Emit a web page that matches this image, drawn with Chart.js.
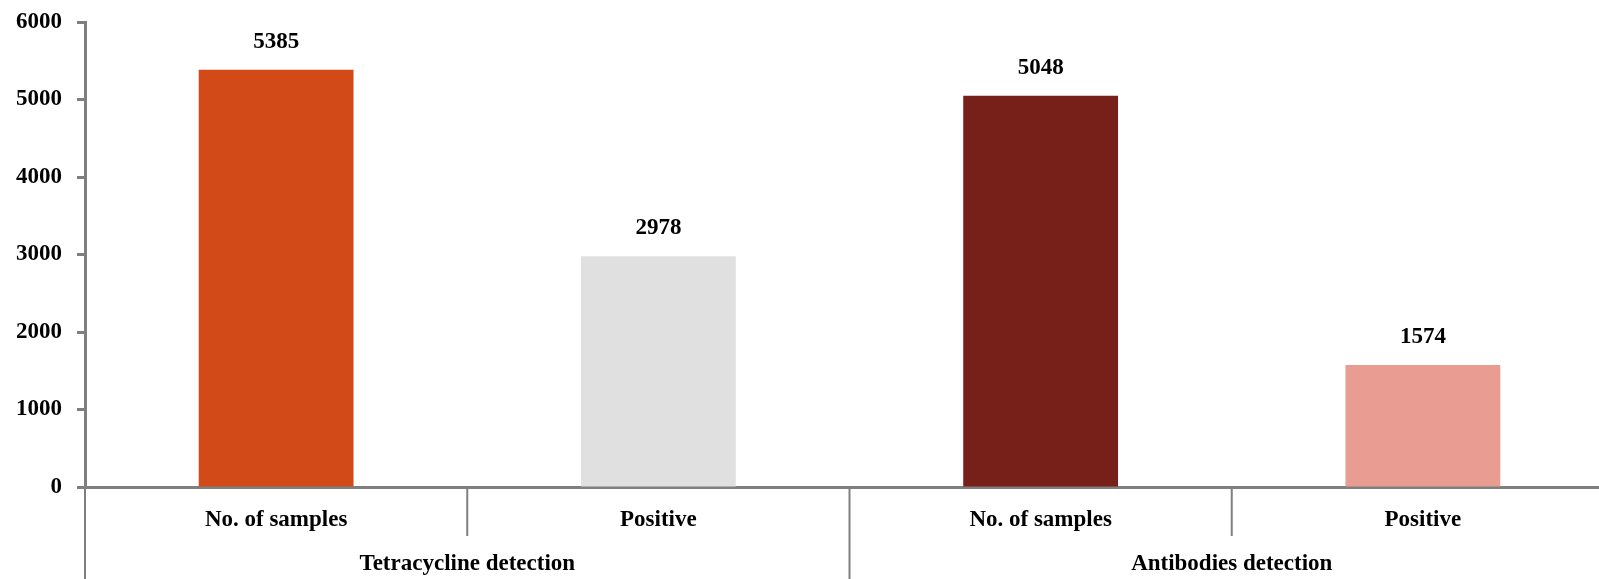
<!DOCTYPE html>
<html>
<head>
<meta charset="utf-8">
<script src="https://cdn.jsdelivr.net/npm/chart.js@4"></script>
<style>
    html, body { margin: 0; padding: 0; background: #ffffff; overflow: hidden; }
    #wrap { width: 1614px; height: 579px; position: relative; }
</style>
</head>
<body>
<div id="wrap"><canvas id="chart"></canvas></div>
<script>
// Data
const subLabels = ['No. of samples', 'Positive', 'No. of samples', 'Positive'];
const groupLabels = ['Tetracycline detection', 'Antibodies detection'];
const groupSizes = [2, 2];
const values = [5385, 2978, 5048, 1574];
const barColors = ['#D24A17', '#E0E0E0', '#762019', '#E99C92'];
const yTicks = [0, 1000, 2000, 3000, 4000, 5000, 6000];

const FONT = "'Liberation Serif', 'Times New Roman', serif";
const AXIS = '#7F7F7F';
const FSIZE = 23;

Chart.defaults.font.family = FONT;
Chart.defaults.font.size = FSIZE;
Chart.defaults.font.weight = 'bold';
Chart.defaults.color = '#000000';

// Value labels above each bar
const valueLabels = {
    id: 'valueLabels',
    afterDatasetsDraw(chart) {
        const ctx = chart.ctx;
        const meta = chart.getDatasetMeta(0);
        ctx.save();
        ctx.font = `bold ${FSIZE}px ${FONT}`;
        ctx.fillStyle = '#000';
        ctx.textAlign = 'center';
        ctx.textBaseline = 'middle';
        meta.data.forEach((bar, i) => {
            ctx.fillText(String(values[i]), bar.x, bar.y - 28);
        });
        ctx.restore();
    }
};

// Category dividers and group labels under the x axis
const groupAxis = {
    id: 'groupAxis',
    afterDraw(chart) {
        const ctx = chart.ctx;
        const x = chart.scales.x;
        const bottom = chart.chartArea.bottom;
        const half = (x.getPixelForValue(1) - x.getPixelForValue(0)) / 2;
        ctx.save();
        ctx.strokeStyle = AXIS;
        ctx.lineWidth = 2;
        let idx = 0;
        groupSizes.forEach((size, g) => {
            const left = x.getPixelForValue(idx) - half;
            const right = x.getPixelForValue(idx + size - 1) + half;
            // long divider at group start
            ctx.beginPath();
            ctx.moveTo(left, bottom);
            ctx.lineTo(left, chart.height);
            ctx.stroke();
            // short dividers inside the group
            for (let k = 1; k < size; k++) {
                const px = x.getPixelForValue(idx + k) - half;
                ctx.beginPath();
                ctx.moveTo(px, bottom);
                ctx.lineTo(px, bottom + 49);
                ctx.stroke();
            }
            ctx.font = `bold ${FSIZE}px ${FONT}`;
            ctx.fillStyle = '#000';
            ctx.textAlign = 'center';
            ctx.textBaseline = 'middle';
            ctx.fillText(groupLabels[g], (left + right) / 2, bottom + 77);
            idx += size;
        });
        ctx.restore();
    }
};

const ctx = document.getElementById('chart').getContext('2d');
new Chart(ctx, {
    type: 'bar',
    data: {
        labels: subLabels,
        datasets: [{
            data: values,
            backgroundColor: barColors,
            borderWidth: 0,
            categoryPercentage: 1,
            barPercentage: 0.405
        }]
    },
    options: {
        responsive: true,
        maintainAspectRatio: false,
        animation: false,
        layout: { padding: { top: 22, left: 0, right: 0, bottom: 0 } },
        scales: {
            x: {
                grid: { display: false },
                border: { display: true, color: AXIS, width: 3 },
                ticks: { padding: 11, color: '#000', maxRotation: 0 },
                afterFit(scale) { scale.height = 92; }
            },
            y: {
                min: 0,
                max: 6000,
                afterBuildTicks(scale) { scale.ticks = yTicks.map(v => ({ value: v })); },
                grid: {
                    drawOnChartArea: false,
                    drawTicks: true,
                    tickLength: 8,
                    tickColor: AXIS,
                    tickWidth: 3
                },
                border: { display: true, color: AXIS, width: 3 },
                ticks: { padding: 15, color: '#000', callback: v => String(v) },
                afterFit(scale) {
                    scale.width = 85;
                    scale.paddingTop = 0;
                    scale.paddingBottom = 0;
                }
            }
        },
        plugins: {
            legend: { display: false },
            tooltip: { enabled: false }
        }
    },
    plugins: [valueLabels, groupAxis]
});
</script>
</body>
</html>
